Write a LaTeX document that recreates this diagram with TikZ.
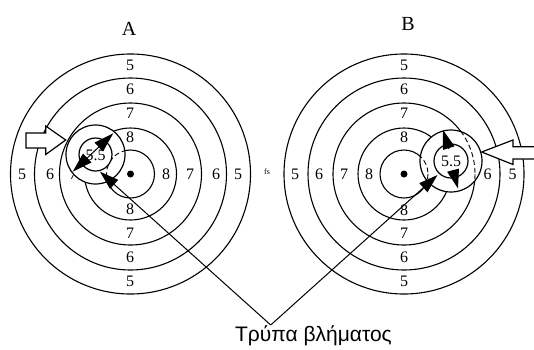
\documentclass[tikz,border=0pt]{standalone}
\usepackage{fontspec}
\setmainfont{Liberation Serif}
\newfontfamily\labelsans{Liberation Sans}
\usetikzlibrary{arrows.meta}
\tikzset{
  x=1pt,y=-1pt,
  ring/.style={draw=black,line width=1.1pt},
  holeout/.style={draw=black,fill=white,line width=1.2pt},
  hid/.style={draw=black,line width=0.9pt,dash pattern=on 5pt off 3pt},
  num/.style={font=\fontsize{16}{18}\selectfont,inner sep=0pt},
  title/.style={font=\fontsize{20}{22}\selectfont,inner sep=0pt},
  dbl/.style={line width=1pt,{Triangle[length=20pt,width=12pt]}-{Triangle[length=20pt,width=12pt]}},
  pointer/.style={line width=1pt,-{Triangle[length=19pt,width=12pt]}},
  blockarrow/.style={draw=black,fill=white,line width=1.2pt,line join=miter}
}
\begin{document}
\begin{tikzpicture}
\useasboundingbox (0,0) rectangle (534,349);
% target centres
\coordinate (ca) at (130.5,174);
\coordinate (cb) at (404,174);
\foreach \c in {ca,cb}{
  \foreach \r in {24,46,71,96,120}{
    \draw[ring] (\c) circle[radius=\r];
  }
  \fill (\c) circle[radius=3.5];
}
% left target numbers
\foreach \n/\x/\y in {5/130/65,6/130/89,7/130/113,8/130/137,8/130/209,7/130/233,6/130/257,5/130/281,
  5/22/174,6/50/174,7/73/174,8/166/174,7/190/174,6/216/174,5/238/174}{
  \node[num] (a\x-\y) at (\x,\y) {\n};
}
% right target numbers
\foreach \n/\x/\y in {5/404/65,6/404/89,7/404/113,8/404/137,8/404/210,7/404/233,6/404/257,5/404/281,
  5/295/174,6/319/174,7/344/174,8/369/174,6/487.5/174,5/512.5/174}{
  \node[num] (b\x-\y) at (\x,\y) {\n};
}
\node[title] (tA) at (129,29) {A};
\node[title] (tB) at (408,24) {B};
\node[font=\fontsize{8}{9}\selectfont,inner sep=0pt] (fs) at (267,172) {fs};
% hole A
\coordinate (ha) at (95.5,154.5);
\draw[holeout] (ha) circle[radius=29.5];
\begin{scope}
  \clip (ha) circle[radius=29];
  \draw[hid] (ca) circle[radius=24];
\end{scope}
\draw[holeout] (ha) circle[radius=16.5];
\node[num] (va) at (95.5,155) {5.5};
% hole B
\coordinate (hb) at (451,161);
\draw[holeout] (hb) circle[radius=31];
\begin{scope}
  \clip (hb) circle[radius=30.5];
  \draw[hid] (cb) circle[radius=24];
  \draw[hid] (cb) circle[radius=71];
\end{scope}
\draw[holeout] (hb) circle[radius=17];
\node[num] (vb) at (451,161) {5.5};
% dimension arrows
\coordinate (a1) at (72.7,171.7);
\coordinate (a2) at (113.3,133.3);
\draw[dbl] (a1) -- (a2);
\coordinate (b1) at (443,130);
\coordinate (b1s) at (449,149);
\coordinate (b2) at (458,188.5);
\coordinate (b2s) at (453,170);
\draw[pointer] (b1s) -- (b1);
\draw[pointer] (b2s) -- (b2);
% pointers
\node[font=\labelsans\fontsize{21}{24}\selectfont,inner sep=0pt] (lab) at (313.5,336) {Τρύπα βλήματος};
\coordinate (apex) at (270.7,325);
\coordinate (pa) at (100,171.7);
\coordinate (pb) at (437.5,175);
\draw[pointer] (apex) -- (pa);
\draw[pointer] (apex) -- (pb);
% block arrows
\draw[blockarrow] (65.7,140) -- (45.7,126) -- (45.7,133) -- (26,133) -- (26,148) -- (45.7,148) -- (45.7,154.5) -- cycle;
\draw[blockarrow] (481.7,152) -- (513,140) -- (513,146.7) -- (535,146.7) -- (535,159) -- (513,159) -- (513,164.5) -- cycle;
\end{tikzpicture}
\end{document}
